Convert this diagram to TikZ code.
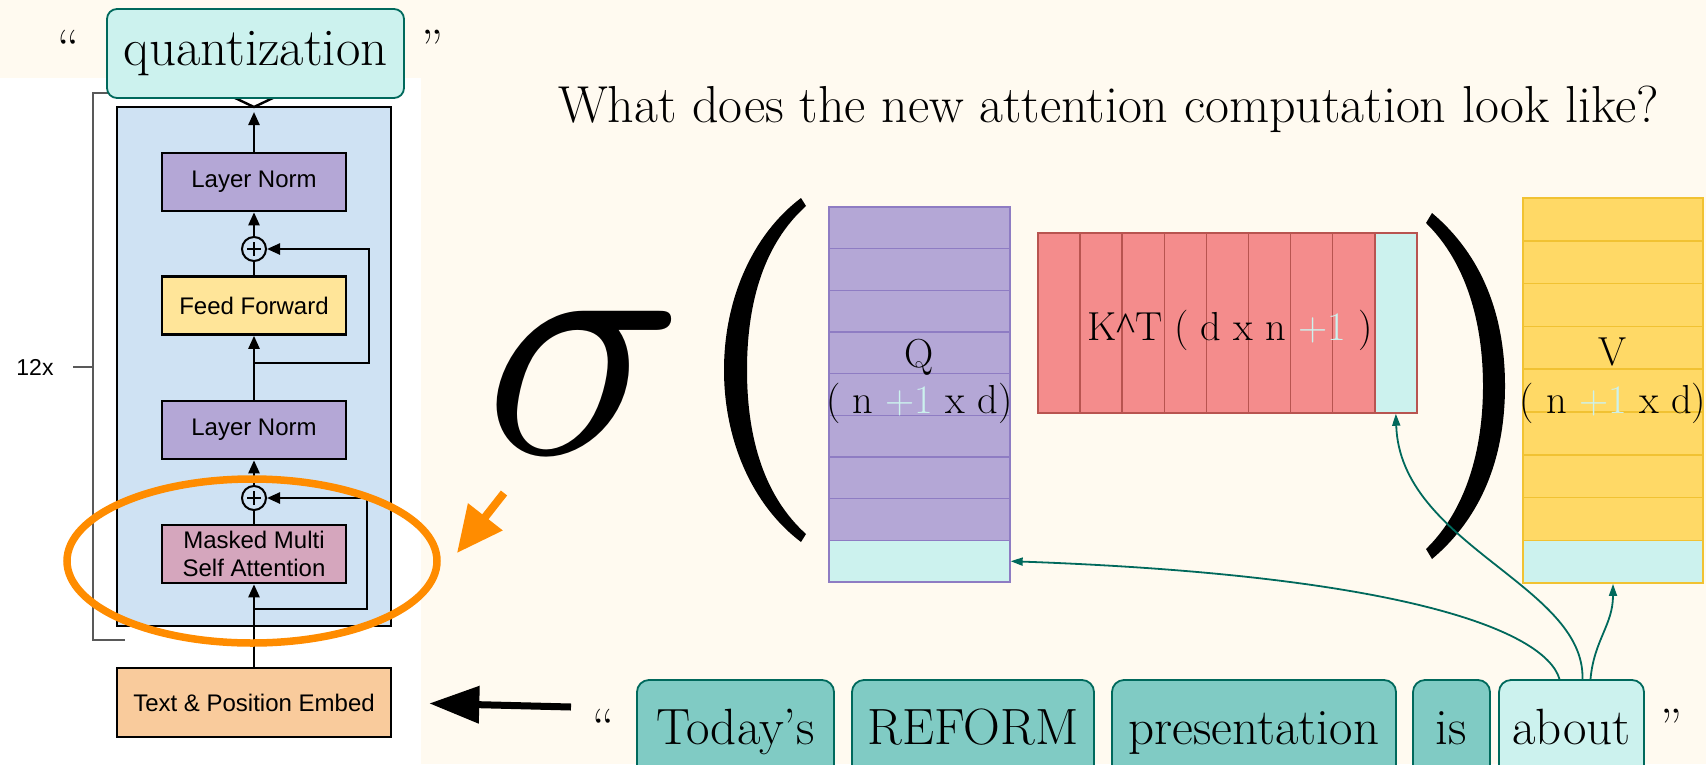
\documentclass[tikz,border=0pt]{standalone}
\usepackage{fontspec}
\usetikzlibrary{arrows.meta}
\newfontfamily\armfont{Liberation Sans}
\newfontfamily\caretfont{Liberation Serif}
\definecolor{cream}{RGB}{255,250,240}
\definecolor{blockblue}{RGB}{207,226,243}
\definecolor{lnpurple}{RGB}{180,167,214}
\definecolor{ffyellow}{RGB}{255,229,153}
\definecolor{attpink}{RGB}{213,166,189}
\definecolor{embpeach}{RGB}{249,203,156}
\definecolor{hlorange}{RGB}{255,140,0}
\definecolor{tokfill}{RGB}{128,203,196}
\definecolor{tokcyan}{RGB}{204,242,238}
\definecolor{tokline}{RGB}{0,105,92}
\definecolor{qfill}{RGB}{180,167,214}
\definecolor{qline}{RGB}{142,124,195}
\definecolor{kfill}{RGB}{244,140,140}
\definecolor{kline}{RGB}{184,84,80}
\definecolor{vfill}{RGB}{255,217,102}
\definecolor{vline}{RGB}{241,194,50}
\definecolor{plusone}{RGB}{204,242,238}
\tikzset{
  blk/.style={draw, line width=2.6pt, minimum width=184pt, minimum height=58pt, inner sep=0pt,
    align=center, font=\armfont\fontsize{24}{28}\selectfont},
  add/.style={circle, draw, line width=2pt, fill=blockblue, minimum size=24pt, inner sep=0pt,
    path picture={\draw[line width=2pt] ([xshift=-7pt]path picture bounding box.center) -- ([xshift=7pt]path picture bounding box.center)
      ([yshift=-7pt]path picture bounding box.center) -- ([yshift=7pt]path picture bounding box.center);}},
  arr/.style={line width=2.4pt, -{Triangle[length=13pt,width=11pt]}},
  plain/.style={line width=2.4pt},
  bracket/.style={draw=black!65, line width=1.3pt},
  word/.style={inner sep=0pt, font=\fontsize{51}{60}\selectfont},
  tok/.style={draw=tokline, fill=tokfill, line width=1.8pt, rounded corners=12pt, minimum height=105pt,
    inner sep=0pt, text height=35pt, text depth=11pt, font=\fontsize{51}{60}\selectfont},
  tarr/.style={draw=tokline, line width=1.8pt, -{Triangle[length=12pt,width=8pt]}},
  mlabel/.style={inner sep=0pt, font=\fontsize{40.5}{48}\selectfont},
  qcell/.style={draw=qline, fill=qfill, line width=1.3pt, minimum width=181pt, minimum height=41.67pt, inner sep=0pt},
  kcol/.style={draw=kline, fill=kfill, line width=1.5pt, minimum width=42.1pt, minimum height=180pt, inner sep=0pt},
  vcell/.style={draw=vline, fill=vfill, line width=1.5pt, minimum width=180pt, minimum height=42.8pt, inner sep=0pt},
  hl/.style={draw=hlorange, line width=7.5pt},
  hlarrow/.style={draw=hlorange, line width=8pt, -{Triangle[length=46pt,width=42pt]}},
  bigarrow/.style={line width=7pt, -{Triangle[length=50pt,width=36pt]}}
}
\begin{document}
\begin{tikzpicture}[x=1pt,y=-1pt]
  \useasboundingbox (0,0) rectangle (1706,764);
  \clip (0,0) rectangle (1706,764);
  \fill[cream] (0,0) rectangle (1706,764);
  \fill[white] (0,78) rectangle (421,764);

  \draw[bracket] (125,93) -- (93,93) -- (93,640) -- (125,640);
  \node[font=\armfont\fontsize{23}{26}\selectfont] (reps) at (35,367) {12x};
  \coordinate (tick) at (93,367);
  \draw[bracket, shorten <=16pt] (reps) -- (tick);

  \draw[line width=2.6pt, fill=blockblue] (117,107) rectangle (391,626);
  \node[blk, fill=lnpurple] (ln1) at (254,182) {Layer Norm};
  \node[add] (plus1) at (254,249) {};
  \node[blk, fill=ffyellow] (ff) at (254,305.5) {Feed Forward};
  \node[blk, fill=lnpurple] (ln2) at (254,430) {Layer Norm};
  \node[add] (plus2) at (254,498) {};
  \node[blk, fill=attpink] (mmsa) at (254,554) {Masked Multi\\Self Attention};
  \node[blk, fill=embpeach, minimum width=274pt, minimum height=69pt] (embed) at (254,702.5) {Text \& Position Embed};

  \coordinate (r1) at (254,363);
  \coordinate (r1c) at (369,363);
  \coordinate (r2) at (254,609);
  \coordinate (r2c) at (367,609);
  \coordinate (out) at (254,107);
  \coordinate (outl) at (233,97);
  \coordinate (outr) at (275,97);

  \draw[arr] (embed) -- (mmsa);
  \draw[arr] (r2) -- (r2c) |- (plus2);
  \draw[plain] (mmsa) -- (plus2);
  \draw[arr] (plus2) -- (ln2);
  \draw[arr] (ln2) -- (ff);
  \draw[arr] (r1) -- (r1c) |- (plus1);
  \draw[plain] (ff) -- (plus1);
  \draw[arr] (plus1) -- (ln1);
  \draw[arr, shorten >=5pt] (ln1) -- (out);
  \draw[plain] (outl) -- (out) -- (outr);

  \node[tok, fill=tokcyan, minimum width=297pt, minimum height=89pt, rounded corners=10pt,
    font=\fontsize{53}{62}\selectfont] (quant) at (255.5,53.5) {quantization};
  \node[word, anchor=base] (qopen) at (69,65) {“};
  \node[word, anchor=base] (qclose) at (433,65) {”};

  \draw[hl] (252,561) ellipse [x radius=185pt, y radius=82pt];
  \coordinate (oa1) at (504,493);
  \coordinate (oa2) at (457,553);
  \draw[hlarrow] (oa1) -- (oa2);
  \coordinate (ba1) at (571,707);
  \draw[bigarrow, shorten >=37pt] (ba1) -- (embed.east);

  \node[anchor=base west, inner sep=0pt, font=\fontsize{52}{62}\selectfont] (title) at (558,122)
    {What does the new attention computation look like?};

  \node[scale=33, inner sep=0pt] (sigma) at (585,382) {$\sigma$};
  \fill (801,198) .. controls (752,235) and (724,300) .. (724,370) .. controls (724,440) and (752,505) .. (801,542)
    -- (806,534) .. controls (765,497) and (747,440) .. (747,370) .. controls (747,300) and (765,243) .. (806,206) -- cycle;
  \fill (1432,213) .. controls (1482,255) and (1505,315) .. (1505,386) .. controls (1505,457) and (1482,517) .. (1432,559)
    -- (1426,549) .. controls (1466,510) and (1483,450) .. (1483,386) .. controls (1483,322) and (1466,262) .. (1426,223) -- cycle;

  \foreach \i in {0,...,7}
    \node[qcell] (q\i) at (919.5,{207+41.67*(\i+0.5)}) {};
  \node[qcell, fill=tokcyan] (q8) at (919.5,{207+41.67*8.5}) {};
  \foreach \i in {0,...,7}
    \node[kcol] (k\i) at ({1038+42.1*(\i+0.5)},323) {};
  \node[kcol, fill=tokcyan] (k8) at ({1038+42.1*8.5},323) {};
  \foreach \i in {0,...,7}
    \node[vcell] (v\i) at (1613,{198+42.8*(\i+0.5)}) {};
  \node[vcell, fill=tokcyan] (v8) at (1613,{198+42.8*8.5}) {};

  \node[mlabel, anchor=base] (qname) at (919.5,367) {Q};
  \node[mlabel, anchor=base] (qdim) at (919.5,413) {( n {\color{plusone}+1} x d)};
  \node[mlabel, anchor=base] (kname) at (1230,340) {K{\caretfont\textasciicircum}T ( d x n {\color{plusone}+1} )};
  \node[mlabel, anchor=base] (vname) at (1613,365) {V};
  \node[mlabel, anchor=base] (vdim) at (1613,413) {( n {\color{plusone}+1} x d)};

  \node[tok, minimum width=197pt] (w1) at (735.5,732.5) {Today’s};
  \node[tok, minimum width=242pt] (w2) at (973,732.5) {REFORM};
  \node[tok, minimum width=284pt] (w3) at (1254,732.5) {presentation};
  \node[tok, minimum width=77pt] (w4) at (1451.5,732.5) {is};
  \node[tok, minimum width=145pt, fill=tokcyan] (about) at (1571.5,732.5) {about};
  \node[word, anchor=base] (open) at (604,744) {“};
  \node[word, anchor=base] (close) at (1672,744) {”};

  \draw[tarr] ([xshift=-12pt]about.north) .. controls (1545,630) and (1400,575) .. (q8.east);
  \draw[tarr] ([xshift=11pt]about.north) .. controls (1585,585) and (1400,545) .. (k8.south);
  \draw[tarr] ([xshift=19pt]about.north) .. controls (1594,640) and (1613,625) .. (v8.south);
\end{tikzpicture}
\end{document}
